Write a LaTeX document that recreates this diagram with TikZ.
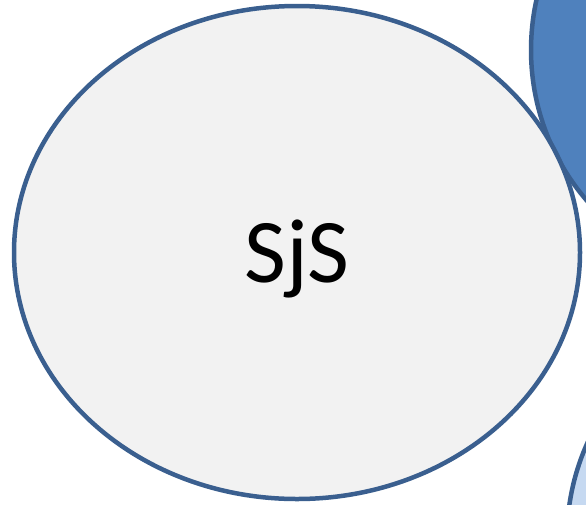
\documentclass[tikz,border=0pt]{standalone}
\usepackage{fontspec}
\setmainfont{Carlito}
\usetikzlibrary{shapes.geometric}
\definecolor{rim}{HTML}{3A5F8F}
\definecolor{hubfill}{HTML}{F2F2F2}
\definecolor{darkblob}{HTML}{4F81BD}
\definecolor{lightblob}{HTML}{C6D9F1}
\tikzset{
  ring/.style={draw=rim, line width=4.5pt, inner sep=0pt},
  satellite/.style={ring, circle, minimum size=462pt},
}
\begin{document}
\begin{tikzpicture}[x=1pt,y=-1pt]
  \useasboundingbox (0,0) rectangle (586,504);
  \clip (0,0) rectangle (586,504);
  % neighbouring circles, partly outside the frame
  \node[satellite, fill=darkblob] (upper) at (762,50) {};
  \node[satellite, fill=lightblob] (lower) at (798,538) {};
  % central ellipse
  \node[ring, ellipse, fill=hubfill, minimum width=566pt, minimum height=493pt] (hub) at (297,252.5) {};
  \node[anchor=base, inner sep=0pt, font=\fontsize{91}{91}\selectfont] (hublabel) at (297,282) {SjS};
\end{tikzpicture}
\end{document}
